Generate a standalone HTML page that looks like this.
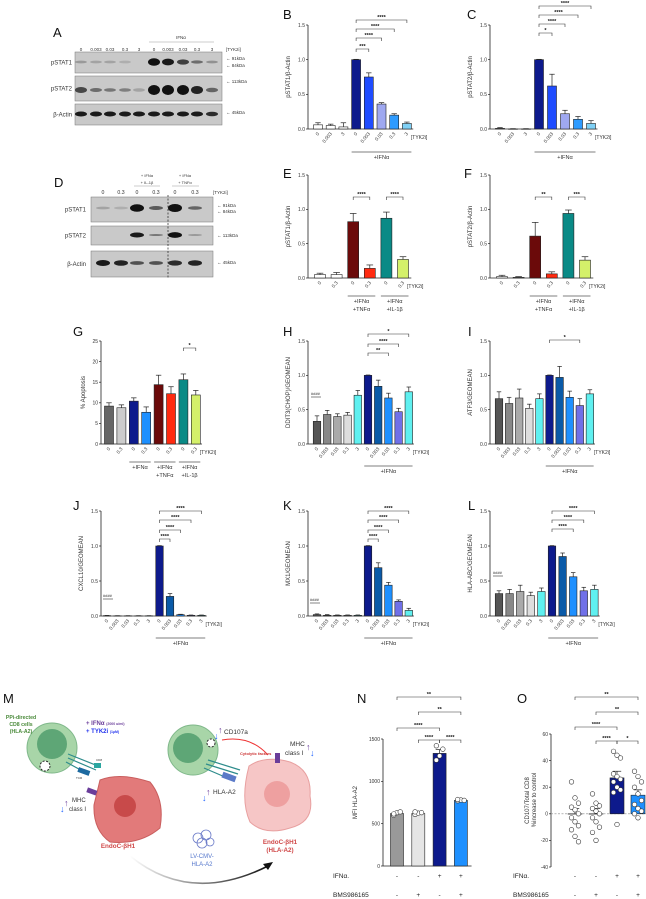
<!DOCTYPE html>
<html><head><meta charset="utf-8"><style>
html,body{margin:0;padding:0;background:#fff;}
svg{display:block;font-family:"Liberation Sans",sans-serif;}
</style></head><body>
<svg id="fig" width="646" height="899" viewBox="0 0 646 899" xmlns="http://www.w3.org/2000/svg">
<defs>
<linearGradient id="arrowGrad" x1="0" y1="0" x2="1" y2="0"><stop offset="0" stop-color="#fff"/><stop offset="1" stop-color="#111"/></linearGradient>
</defs>
<g id="letters" font-size="13" fill="#111">
<text x="53" y="37">A</text>
<text x="283" y="19">B</text>
<text x="467" y="19">C</text>
<text x="54" y="187">D</text>
<text x="283" y="178">E</text>
<text x="464" y="178">F</text>
<text x="73" y="336">G</text>
<text x="283" y="336">H</text>
<text x="468" y="336">I</text>
<text x="73" y="510">J</text>
<text x="283" y="510">K</text>
<text x="468" y="510">L</text>
<text x="3" y="703">M</text>
<text x="357" y="703">N</text>
<text x="517" y="703">O</text>
</g>
<g id="blots"></g>
<g id="charts"></g>
<g id="illus">
<circle cx="52" cy="748" r="25" fill="#a8d5a8" stroke="#7fb88a"/>
<circle cx="52" cy="744" r="15" fill="#5ea676"/>
<circle cx="45" cy="766" r="5" fill="#fff" stroke="#222" stroke-dasharray="2 1.5"/>
<g stroke="#2e8c8c" stroke-width="1.2"><line x1="68" y1="754" x2="98" y2="766"/><line x1="68" y1="758" x2="96" y2="770"/><line x1="66" y1="762" x2="88" y2="774"/></g>
<rect x="78" y="769" width="12" height="5" fill="#1d6aa0" transform="rotate(20 84 771)"/>
<rect x="94" y="763" width="7" height="5" fill="#2aa6a0"/>
<text x="96" y="761" font-size="3" fill="#333">CD8</text><text x="76" y="779" font-size="3" fill="#333">TCR</text>
<text x="21" y="719" font-size="5.2" fill="#4a8a3a" text-anchor="middle" font-weight="bold">PPi-directed</text>
<text x="21" y="726" font-size="5.2" fill="#4a8a3a" text-anchor="middle" font-weight="bold">CD8 cells</text>
<text x="21" y="733" font-size="5.2" fill="#4a8a3a" text-anchor="middle" font-weight="bold">(HLA-A2)</text>
<text x="86" y="725" font-size="6" fill="#6a3d9a" font-weight="bold">+ IFNα <tspan font-size="3.5">(2000 u/ml)</tspan></text>
<text x="86" y="733" font-size="6" fill="#2233ee" font-weight="bold">+ TYK2i <tspan font-size="3.5">(1µM)</tspan></text>
<path d="M100,780 Q120,772 150,782 Q165,800 160,828 Q140,845 110,842 Q93,830 94,805 Z" fill="#e27a7a" stroke="#c95e5e"/>
<circle cx="125" cy="806" r="11" fill="#c84a4a"/>
<rect x="87" y="789" width="10" height="5" fill="#6a3d9a" transform="rotate(20 92 791)"/>
<text x="72" y="802" font-size="6" fill="#333">MHC</text><text x="69" y="811" font-size="6" fill="#333">class I</text>
<text x="64" y="806" font-size="9" fill="#6a3d9a">↑</text><text x="60" y="812" font-size="9" fill="#2266ff">↓</text>
<text x="118" y="848" font-size="6.3" fill="#d04848" text-anchor="middle" font-weight="bold">EndoC-βH1</text>
<circle cx="193" cy="750" r="25" fill="#a8d5a8" stroke="#7fb88a"/>
<circle cx="188" cy="748" r="15" fill="#5ea676"/>
<circle cx="211" cy="743" r="4" fill="#fff" stroke="#222" stroke-dasharray="2 1.5"/>
<g stroke="#2e8c8c" stroke-width="1.2"><line x1="208" y1="760" x2="240" y2="770"/><line x1="206" y1="764" x2="238" y2="774"/><line x1="204" y1="768" x2="232" y2="780"/></g>
<rect x="222" y="774" width="14" height="6" fill="#5a7ac8" transform="rotate(20 229 777)"/>
<path d="M249,766 Q265,755 290,762 Q312,770 310,796 Q315,822 290,828 Q265,836 250,822 Q240,800 249,766 Z" fill="#f6c6c6" stroke="#e8a0a0"/>
<circle cx="277" cy="794" r="13" fill="#eea0a0"/>
<rect x="275" y="753" width="5" height="10" fill="#6a3d9a"/>
<path d="M222,740 Q250,735 268,755" fill="none" stroke="#e33" stroke-width="1"/>
<text x="224" y="734" font-size="6.5" fill="#333">CD107a</text>
<text x="218" y="733" font-size="9" fill="#6a3d9a">↑</text><text x="214" y="739" font-size="9" fill="#2266ff">↓</text>
<text x="240" y="755" font-size="4" fill="#c33" font-weight="bold">Cytolytic factors</text>
<text x="290" y="746" font-size="6.5" fill="#333">MHC</text><text x="285" y="755" font-size="6.5" fill="#333">class I</text>
<text x="306" y="750" font-size="9" fill="#6a3d9a">↑</text><text x="310" y="756" font-size="9" fill="#2266ff">↓</text>
<text x="213" y="794" font-size="6.5" fill="#333">HLA-A2</text>
<text x="206" y="795" font-size="9" fill="#6a3d9a">↑</text><text x="202" y="801" font-size="9" fill="#2266ff">↓</text>
<text x="280" y="844" font-size="6.3" fill="#d04848" text-anchor="middle" font-weight="bold">EndoC-βH1</text>
<text x="280" y="852" font-size="6.3" fill="#d04848" text-anchor="middle" font-weight="bold">(HLA-A2)</text>
<g fill="none" stroke="#6a7ac8" stroke-width="0.8"><circle cx="198" cy="838" r="5"/><circle cx="206" cy="835" r="5"/><circle cx="202" cy="843" r="5"/><circle cx="210" cy="842" r="4"/></g>
<text x="202" y="858" font-size="6" fill="#5577cc" text-anchor="middle">LV-CMV-</text>
<text x="202" y="866" font-size="6" fill="#5577cc" text-anchor="middle">HLA-A2</text>
<path d="M130,856 Q190,905 268,866" fill="none" stroke="url(#arrowGrad)" stroke-width="1.6"/>
<polygon points="273,862 263,864 268,870" fill="#111"/>
</g>
</svg>
<script>
// ===== Data arrays =====
const bCats=["0","0.003","3","0","0.003","0.03","0.3","3"];
const bVals=[0.06,0.05,0.03,1.0,0.75,0.36,0.20,0.08];
const bErr=[0.03,0.02,0.06,0.005,0.06,0.02,0.02,0.02];
const cVals=[0.01,0.0,0.0,1.0,0.62,0.22,0.14,0.08];
const cErr=[0.01,0.005,0.005,0.005,0.17,0.05,0.04,0.04];
const eCats=["0","0.3","0","0.3","0","0.3"];
const eVals=[0.05,0.05,0.82,0.14,0.87,0.27];
const eErr=[0.02,0.03,0.12,0.05,0.09,0.04];
const fVals=[0.02,0.01,0.61,0.06,0.94,0.26];
const fErr=[0.02,0.01,0.20,0.03,0.05,0.05];
const gCats=["0","0.3","0","0.3","0","0.3","0","0.3"];
const gVals=[9.2,8.8,10.4,7.7,14.4,12.2,15.6,11.9];
const gErr=[0.8,0.7,0.8,1.3,2.3,1.7,1.4,1.1];
const doseCats=["0","0.003","0.03","0.3","3","0","0.003","0.03","0.3","3"];
const hVals=[0.33,0.43,0.40,0.42,0.71,1.0,0.84,0.67,0.47,0.76];
const hErr=[0.08,0.06,0.04,0.04,0.07,0.005,0.09,0.07,0.05,0.07];
const iVals=[0.66,0.59,0.67,0.52,0.66,1.0,0.97,0.68,0.56,0.73];
const iErr=[0.10,0.09,0.13,0.06,0.07,0.005,0.16,0.09,0.10,0.06];
const jVals=[0.005,0.003,0.003,0.003,0.003,1.0,0.28,0.02,0.01,0.01];
const jErr=[0.003,0.002,0.002,0.002,0.002,0.005,0.04,0.005,0.004,0.004];
const kVals=[0.02,0.01,0.01,0.01,0.01,1.0,0.69,0.44,0.21,0.08];
const kErr=[0.01,0.01,0.005,0.005,0.005,0.005,0.07,0.04,0.02,0.03];
const lVals=[0.32,0.32,0.35,0.29,0.35,1.0,0.85,0.56,0.36,0.38];
const lErr=[0.04,0.06,0.09,0.05,0.05,0.005,0.05,0.06,0.05,0.06];
const nVals=[620,620,1330,775];
const nErr=[15,12,45,10];
const nPts=[[600,630,640,615],[610,625,630,640],[1250,1300,1380,1420],[770,780,775,785]];
const oVals=[0,0,27,14];
const oErr=[4,4,5,4];
const oPts=[[24,12,8,5,3,0,-3,-6,-9,-12,-17,-21],[15,8,6,4,2,0,-3,-6,-10,-14,-20],[47,44,42,30,28,26,24,20,18,16,-8],[32,28,24,20,15,10,7,4,2,0,-3]];
const nIfn=["-","-","+","+"];
const nBms=["-","+","-","+"];

const NS="http://www.w3.org/2000/svg";
const charts=document.getElementById('charts');
function mk(tag,attrs,parent){const e=document.createElementNS(NS,tag);for(const k in attrs)e.setAttribute(k,attrs[k]);(parent||charts).appendChild(e);return e;}
function txt(s,attrs,parent){const e=mk('text',attrs,parent);e.textContent=s;return e;}

function chart(c){
  const g=mk('g',{});
  
  
  const y=v=>c.yB-(v-c.min)/(c.max-c.min)*(c.yB-c.yT);
  const xc=i=>c.x0+i*c.step;
  const n=c.vals.length;
  const ax=mk('line',{x1:c.ax,y1:c.yT,x2:c.ax,y2:c.yB,stroke:'#222','stroke-width':0.8},g);
  
  
  if(!c.noBase){
    const bl=mk('line',{x1:c.ax,y1:y(Math.max(c.min,0)),x2:xc(n-1)+c.step/2,y2:y(Math.max(c.min,0)),stroke:'#222','stroke-width':0.8},g);
    
    
  } else {
    const zl=mk('line',{x1:c.ax,y1:y(0),x2:xc(n-1)+c.step,y2:y(0),stroke:'#888','stroke-width':0.6,'stroke-dasharray':'2 1.5'},g);
    
    
  }
  c.ticks.forEach(t=>{
    mk('line',{x1:c.ax-2,y1:y(t),x2:c.ax,y2:y(t),stroke:'#222','stroke-width':0.7},g);
    const tl=txt(c.tickFmt(t),{x:c.ax-3,y:y(t)+1.8,'font-size':c.tfs||5,'text-anchor':'end',fill:'#333'},g);
    
    
  });
  const tt=txt(c.title,{x:0,y:0,'font-size':c.titfs||6,'text-anchor':'middle',fill:'#333',transform:`translate(${c.ax-c.titOff},${(c.yT+c.yB)/2}) rotate(-90)`},g);
  
  
  for(let i=0;i<n;i++){
    const v=c.vals[i],b=Math.max(c.min,0);
    const top=Math.min(y(v),y(b)),h=Math.abs(y(v)-y(b));
    const r=mk('rect',{x:xc(i)-c.bw/2,y:top,width:c.bw,height:Math.max(h,0.3),fill:c.colors[i],stroke:'#222','stroke-width':0.6},g);
    
    
    const e=c.errs[i];
    mk('line',{x1:xc(i),y1:y(v),x2:xc(i),y2:y(v+e),stroke:'#222','stroke-width':0.7},g);
    mk('line',{x1:xc(i)-c.bw*0.3,y1:y(v+e),x2:xc(i)+c.bw*0.3,y2:y(v+e),stroke:'#222','stroke-width':0.7},g);
    if(c.pts){c.pts[i].forEach((p,k)=>{
      const d=mk('circle',{cx:xc(i)+((k%3)-1)*c.bw*0.25,cy:y(p),r:c.pr||2.2,fill:'#fff',stroke:'#333','stroke-width':0.6},g);
      
      
    });}
    if(c.cats){
      const xl=txt(c.cats[i],{x:0,y:0,'font-size':4.8,'text-anchor':'end',fill:'#333',transform:`translate(${xc(i)+1.5},${c.yB+5}) rotate(-50)`},g);
      
      
    }
  }
  if(c.tyk){const tk=txt('[TYK2i]',{x:xc(n-1)+4,y:c.yB+10,'font-size':5,fill:'#333'},g);}
  (c.groups||[]).forEach(gr=>{
    const x1=xc(gr[0])-c.bw/2,x2=xc(gr[1])+c.bw/2;
    mk('line',{x1:x1,y1:c.yB+gr[3],x2:x2,y2:c.yB+gr[3],stroke:'#555','stroke-width':0.8},g);
    gr[2].forEach((s,k)=>{const gl=txt(s,{x:(x1+x2)/2,y:c.yB+gr[3]+7+k*8,'font-size':5.6,'text-anchor':'middle',fill:'#333'},g);});
  });
  (c.sig||[]).forEach(s=>{
    const x1=xc(s[0]),x2=xc(s[1]),py=s[2];
    mk('path',{d:`M${x1},${py+3}V${py}H${x2}V${py+3}`,fill:'none',stroke:'#333','stroke-width':0.6},g);
    const st=txt(s[3],{x:(x1+x2)/2,y:py-0.8,'font-size':5.5,'font-weight':'bold','text-anchor':'middle',fill:'#111'},g);
    
    
  });
  return {y,xc};
}
const f1=t=>t.toFixed(1);
const cB=['#fff','#fff','#fff','#0d1a8c','#1f4cff','#9fa8f0','#2e9bff','#7fd0f5'];
const cE=['#fff','#fff','#6b0a0a','#ff2a10','#0a8a86','#d4f06a'];
const cG=['#666','#ccc','#0d1a8c','#1e90ff','#6b0a0a','#ff2a10','#0a8a86','#d4f06a'];
const cH=['#555','#888','#aaa','#ddd','#5ff0f0','#0d1a8c','#0a5aa8','#1e90ff','#7070e8','#5ff0f0'];
const t15=[0,0.5,1.0,1.5];
chart({name:'chart-b-pstat1',ax:308,yT:25,yB:129,min:0,max:1.5,ticks:t15,tickFmt:f1,x0:318,step:12.7,bw:9,vals:bVals,errs:bErr,colors:cB,cats:bCats,title:'pSTAT1/β-Actin',titOff:18,tyk:true,groups:[[3,7,['+IFNα'],23]],sig:[[3,4,49,'***'],[3,5,38,'****'],[3,6,29,'****'],[3,7,20,'****']]});
chart({name:'chart-c-pstat2',ax:490,yT:25,yB:129,min:0,max:1.5,ticks:t15,tickFmt:f1,x0:500,step:13,bw:9,vals:cVals,errs:cErr,colors:cB,cats:bCats,title:'pSTAT2/β-Actin',titOff:18,tyk:true,groups:[[3,7,['+IFNα'],23]],sig:[[3,4,33,'*'],[3,5,24,'****'],[3,6,15,'****'],[3,7,6,'****']]});
chart({name:'chart-e-pstat1',ax:308,yT:175,yB:278,min:0,max:1.5,ticks:t15,tickFmt:f1,x0:320,step:16.6,bw:11,vals:eVals,errs:eErr,colors:cE,cats:eCats,title:'pSTAT1/β-Actin',titOff:18,tyk:true,groups:[[2,3,['+IFNα','+TNFα'],18],[4,5,['+IFNα','+IL-1β'],18]],sig:[[2,3,197,'****'],[4,5,197,'****']]});
chart({name:'chart-f-pstat2',ax:490,yT:175,yB:278,min:0,max:1.5,ticks:t15,tickFmt:f1,x0:502,step:16.6,bw:11,vals:fVals,errs:fErr,colors:cE,cats:eCats,title:'pSTAT2/β-Actin',titOff:18,tyk:true,groups:[[2,3,['+IFNα','+TNFα'],18],[4,5,['+IFNα','+IL-1β'],18]],sig:[[2,3,197,'**'],[4,5,197,'***']]});
chart({name:'chart-g-apoptosis',ax:101,yT:341,yB:444,min:0,max:25,ticks:[0,5,10,15,20,25],tickFmt:t=>String(t),x0:109,step:12.4,bw:9,vals:gVals,errs:gErr,colors:cG,cats:gCats,title:'% Apoptosis',titOff:16,tyk:true,groups:[[2,3,['+IFNα'],18],[4,5,['+IFNα','+TNFα'],18],[6,7,['+IFNα','+IL-1β'],18]],sig:[[6,7,348,'*']]});
chart({name:'chart-h-ddit3',ax:308,yT:341,yB:444,min:0,max:1.5,ticks:t15,tickFmt:f1,x0:317,step:10.2,bw:7.5,vals:hVals,errs:hErr,colors:cH,cats:doseCats,title:'DDIT3(CHOP)/GEOMEAN',titOff:18,tyk:true,groups:[[5,9,['+IFNα'],22]],sig:[[5,7,353,'**'],[5,8,344,'****'],[5,9,334,'*']]});
chart({name:'chart-i-atf3',ax:490,yT:341,yB:444,min:0,max:1.5,ticks:t15,tickFmt:f1,x0:499,step:10.1,bw:7.5,vals:iVals,errs:iErr,colors:cH,cats:doseCats,title:'ATF3/GEOMEAN',titOff:18,tyk:true,groups:[[5,9,['+IFNα'],22]],sig:[[5,8,340,'*']]});
chart({name:'chart-j-cxcl10',ax:101,yT:511,yB:616,min:0,max:1.5,ticks:t15,tickFmt:f1,x0:107,step:10.5,bw:7.5,vals:jVals,errs:jErr,colors:cH,cats:doseCats,title:'CXCL10/GEOMEAN',titOff:18,tyk:true,groups:[[5,9,['+IFNα'],22]],sig:[[5,6,539,'****'],[5,7,530,'****'],[5,8,520,'****'],[5,9,511,'****']]});
chart({name:'chart-k-mx1',ax:308,yT:511,yB:616,min:0,max:1.5,ticks:t15,tickFmt:f1,x0:317,step:10.2,bw:7.5,vals:kVals,errs:kErr,colors:cH,cats:doseCats,title:'MX1/GEOMEAN',titOff:18,tyk:true,groups:[[5,9,['+IFNα'],22]],sig:[[5,6,539,'****'],[5,7,530,'****'],[5,8,520,'****'],[5,9,511,'****']]});
chart({name:'chart-l-hla-abc',ax:490,yT:511,yB:616,min:0,max:1.5,ticks:t15,tickFmt:f1,x0:499,step:10.6,bw:7.5,vals:lVals,errs:lErr,colors:cH,cats:doseCats,title:'HLA-ABC/GEOMEAN',titOff:18,tyk:true,groups:[[5,9,['+IFNα'],22]],sig:[[5,7,529,'****'],[5,8,520,'****'],[5,9,511,'****']]});
const hashes=[[103,597,'####'],[310,601,'####'],[493,574,'####'],[311,395,'####']];
hashes.forEach(h=>{
  const t=txt(h[2],{x:h[0],y:h[1],'font-size':4,fill:'#333'});
  
  
  mk('line',{x1:h[0],y1:h[1]+2,x2:h[0]+10,y2:h[1]+2,stroke:'#333','stroke-width':0.6});
});
const N=chart({name:'chart-n-mfi-hla-a2',ax:383,yT:739,yB:866,min:0,max:1500,ticks:[0,500,1000,1500],tickFmt:t=>String(t),x0:397,step:21.3,bw:13,vals:nVals,errs:nErr,colors:['#999','#e5e5e5','#0d1a8c','#1e90ff'],title:'MFI HLA-A2',titOff:26,pts:nPts,pr:2.3,sig:[[0,3,697,'**'],[1,3,712,'**'],[0,2,728,'****'],[1,2,740,'****'],[2,3,740,'****']]});
const O=chart({name:'chart-o-cd107',ax:551,yT:734,yB:867,min:-40,max:60,ticks:[-40,-20,0,20,40,60],tickFmt:t=>String(t),x0:575,step:21,bw:14,vals:oVals,errs:oErr,colors:['#fff','#fff','#0d1a8c','#1e90ff'],title:'CD107/Total CD8',titOff:22,noBase:true,pts:oPts,pr:2.3,sig:[[0,3,697,'**'],[1,3,712,'**'],[0,2,727,'****'],[1,2,741,'****'],[2,3,741,'*']]});
const oSub=txt('%increase to control',{x:0,y:0,'font-size':6,'text-anchor':'middle',fill:'#333',transform:'translate(536,800) rotate(-90)'});


[['IFNα.',878,nIfn],['BMS986165',897,nBms]].forEach(r=>{
  const a=txt(r[0],{x:333,y:r[1],'font-size':6.5,fill:'#222'});
  
  
  const b=txt(r[0],{x:513,y:r[1],'font-size':6.5,fill:'#222'});
  
  
  r[2].forEach((s,i)=>{txt(s,{x:N.xc(i),y:r[1],'font-size':6.5,'text-anchor':'middle',fill:'#222'});txt(s,{x:O.xc(i),y:r[1],'font-size':6.5,'text-anchor':'middle',fill:'#222'});});
});

// ===== Western blots =====
const blots=document.getElementById('blots');
function blot(b){
  const g=mk('g',{},blots);
  
  
  b.rows.forEach(r=>{
    mk('rect',{x:b.x1,y:r.y,width:b.x2-b.x1,height:r.h,fill:'#c9c9c9',stroke:'#777','stroke-width':0.5},g);
    const lb=txt(r.label,{x:b.labX,y:r.y+r.h/2+2,'font-size':6,'text-anchor':'end',fill:'#333'},g);
    
    
    r.bands.forEach((d,i)=>{if(d>0)mk('ellipse',{cx:b.lanes[i],cy:r.y+r.by,rx:b.bw,ry:r.bh*Math.max(0.35,d),fill:'#111','fill-opacity':Math.min(1,d+0.1)},g);});
    r.kda.forEach(k=>txt('← '+k[0],{x:b.x2+4,y:r.y+k[1],'font-size':4.5,fill:'#333'},g));
  });
}
const aLanes=[81,96,110,125,139,154,168,183,197,212];
blot({name:'western-blot-a',x1:75,x2:222,labX:72,bw:6,lanes:aLanes,rows:[
 {label:'pSTAT1',y:52,h:21,by:10,bh:4,bands:[0.15,0.1,0.1,0.05,0,0.95,0.85,0.65,0.4,0.2],kda:[['91kDa',8],['84kDa',15]]},
 {label:'pSTAT2',y:76,h:25,by:14,bh:5,bands:[0.6,0.4,0.35,0.3,0.1,1,1,1,0.8,0.45],kda:[['113kDa',7]]},
 {label:'β-Actin',y:104,h:21,by:10,bh:3,bands:[0.85,0.85,0.85,0.85,0.85,0.85,0.85,0.85,0.85,0.75],kda:[['45kDa',10]]}]});
['0','0.003','0.03','0.3','3','0','0.003','0.03','0.3','3'].forEach((s,i)=>txt(s,{x:aLanes[i],y:51,'font-size':4.5,'text-anchor':'middle',fill:'#333'},blots));
txt('IFNα',{x:181,y:39,'font-size':4.5,'text-anchor':'middle',fill:'#333'},blots);
mk('line',{x1:149,y1:42,x2:214,y2:42,stroke:'#999','stroke-width':0.6},blots);
txt('[TYK2i]',{x:226,y:51,'font-size':4.5,fill:'#333'},blots);
const dLanes=[103,121,137,156,175,195];
blot({name:'western-blot-d',x1:91,x2:213,labX:86,bw:7,lanes:dLanes,rows:[
 {label:'pSTAT1',y:197,h:25,by:11,bh:4,bands:[0.1,0.05,0.95,0.5,1,0.45],kda:[['91kDa',10],['84kDa',16]]},
 {label:'pSTAT2',y:226,h:19,by:9,bh:3,bands:[0,0,0.85,0.35,0.95,0.15],kda:[['113kDa',11]]},
 {label:'β-Actin',y:251,h:26,by:12,bh:3.5,bands:[0.85,0.8,0.55,0.55,0.75,0.8],kda:[['45kDa',13]]}]});
mk('line',{x1:168,y1:195,x2:168,y2:278,stroke:'#222','stroke-width':0.7,'stroke-dasharray':'2 1.5'},blots);
['0','0.3','0','0.3','0','0.3'].forEach((s,i)=>txt(s,{x:dLanes[i],y:194,'font-size':5.2,'text-anchor':'middle',fill:'#333'},blots));
txt('+ IFNα',{x:147,y:177,'font-size':4,'text-anchor':'middle',fill:'#333'},blots);
txt('+ IL-1β',{x:147,y:184,'font-size':4,'text-anchor':'middle',fill:'#333'},blots);
txt('+ IFNα',{x:185,y:177,'font-size':4,'text-anchor':'middle',fill:'#333'},blots);
txt('+ TNFα',{x:185,y:184,'font-size':4,'text-anchor':'middle',fill:'#333'},blots);
mk('line',{x1:134,y1:186,x2:160,y2:186,stroke:'#999','stroke-width':0.5},blots);
mk('line',{x1:172,y1:186,x2:199,y2:186,stroke:'#999','stroke-width':0.5},blots);
txt('[TYK2i]',{x:213,y:194,'font-size':4.5,fill:'#333'},blots);
</script>
</body></html>
